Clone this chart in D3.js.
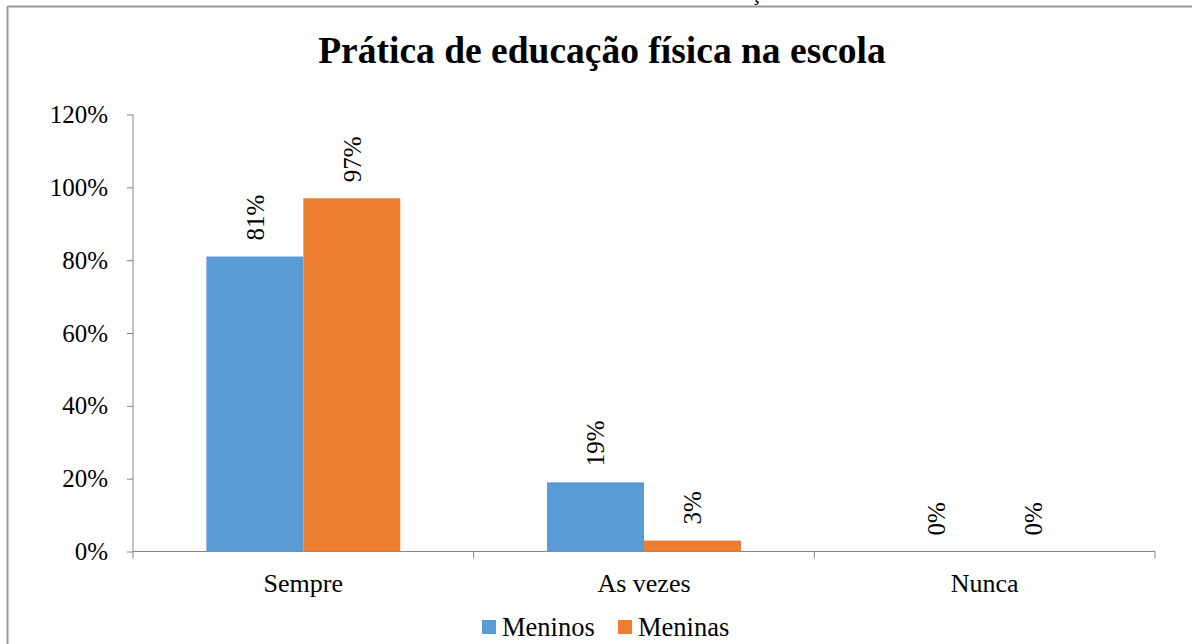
<!doctype html>
<html>
<head>
<meta charset="utf-8">
<style>
    body { margin: 0; background: #fff; }
    text { font-family: "Liberation Serif", "Times New Roman", serif; fill: #000; }
</style>
<script src="https://d3js.org/d3.v7.min.js"></script>
</head>
<body>
<svg width="1192" height="644"></svg>
<script>
    // chart data
    var categories = ["Sempre", "As vezes", "Nunca"];
    var seriesNames = ["Meninos", "Meninas"];
    var meninos = [0.81, 0.19, 0];
    var meninas = [0.97, 0.03, 0];
    var yTicks = [0, 0.2, 0.4, 0.6, 0.8, 1.0, 1.2];
    var colors = ["#5B9BD5", "#ED7D31"];

    var svg = d3.select("svg");
    var plotLeft = 133, plotRight = 1155, plotTop = 114.5, plotBottom = 551.5;

    // outer frame (partly cut off) + stray cedilla from text above
    svg.append("line").attr("x1", 7.5).attr("x2", 1192).attr("y1", 6.5).attr("y2", 6.5)
        .attr("stroke", "#9a9a9a").attr("stroke-width", 2);
    svg.append("line").attr("x1", 7.5).attr("x2", 7.5).attr("y1", 6.5).attr("y2", 644)
        .attr("stroke", "#9a9a9a").attr("stroke-width", 2);
    svg.append("text").attr("x", 751).attr("y", 0).attr("font-size", "22px").text("ç");

    svg.append("text")
        .attr("x", 602).attr("y", 63)
        .attr("text-anchor", "middle")
        .attr("font-size", "37.5px")
        .attr("font-weight", "bold")
        .text("Prática de educação física na escola");

    var x0 = d3.scaleBand().domain(categories).range([plotLeft, plotRight]).paddingInner(0).paddingOuter(0);
    var x1 = d3.scaleBand().domain(seriesNames).range([0, x0.bandwidth()]).paddingInner(0).paddingOuter(0.757);
    var y = d3.scaleLinear().domain([0, 1.2]).range([plotBottom, plotTop]);

    // y axis
    var yAxis = svg.append("g")
        .attr("transform", "translate(" + plotLeft + ",0)")
        .call(d3.axisLeft(y).tickValues(yTicks).tickSize(6).tickPadding(19)
            .tickFormat(function(d) { return Math.round(d * 100) + "%"; }));
    yAxis.select(".domain").attr("stroke", "#868686").attr("d", "M0," + plotTop + "V" + plotBottom);
    yAxis.selectAll(".tick line").attr("stroke", "#868686");
    yAxis.selectAll(".tick text").attr("font-size", "25px").attr("font-family", "Liberation Serif").attr("fill", "#000");

    // x axis
    var xAxis = svg.append("g").attr("transform", "translate(0," + plotBottom + ")");
    xAxis.append("line").attr("x1", plotLeft).attr("x2", plotRight).attr("stroke", "#868686");
    var bounds = categories.map(function(c) { return x0(c); }).concat([plotRight]);
    xAxis.selectAll(".sep").data(bounds).enter().append("line")
        .attr("x1", function(d) { return d; }).attr("x2", function(d) { return d; })
        .attr("y1", 0).attr("y2", 7).attr("stroke", "#868686");
    xAxis.selectAll(".cat").data(categories).enter().append("text")
        .attr("x", function(d) { return x0(d) + x0.bandwidth() / 2; })
        .attr("y", 40)
        .attr("text-anchor", "middle")
        .attr("font-size", "26px")
        .text(function(d) { return d; });

    var rows = [];
    categories.forEach(function(c, i) {
        rows.push({ cat: c, s: "Meninos", v: meninos[i], k: 0 });
        rows.push({ cat: c, s: "Meninas", v: meninas[i], k: 1 });
    });

    svg.selectAll(".bar").data(rows).enter().append("rect")
        .attr("class", "bar")
        .attr("x", function(d) { return x0(d.cat) + x1(d.s); })
        .attr("y", function(d) { return y(d.v); })
        .attr("width", x1.bandwidth())
        .attr("height", function(d) { return plotBottom - y(d.v); })
        .attr("fill", function(d) { return colors[d.k]; });

    // rotated value labels
    svg.selectAll(".val").data(rows).enter().append("text")
        .attr("class", "val")
        .attr("transform", function(d) {
            var cx = x0(d.cat) + x1(d.s) + x1.bandwidth() / 2;
            return "translate(" + cx + "," + (y(d.v) - 16) + ") rotate(-90)";
        })
        .attr("dy", "0.35em")
        .attr("font-size", "25px")
        .text(function(d) { return Math.round(d.v * 100) + "%"; });

    // legend
    var leg = svg.append("g").attr("transform", "translate(482,627)");
    var lx = [0, 136];
    seriesNames.forEach(function(s, i) {
        leg.append("rect").attr("x", lx[i]).attr("y", -7).attr("width", 14).attr("height", 14).attr("fill", colors[i]);
        leg.append("text").attr("x", lx[i] + 20).attr("y", 9).attr("font-size", "26.5px").text(s);
    });
</script>
</body>
</html>
